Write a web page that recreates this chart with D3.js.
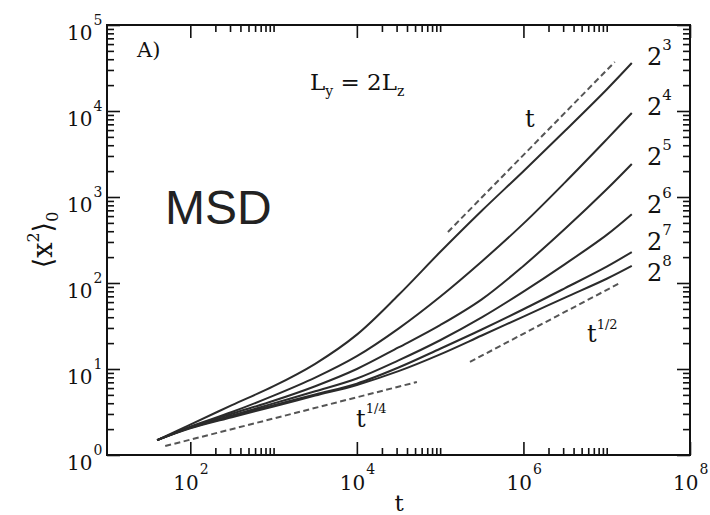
<!DOCTYPE html>
<html><head><meta charset="utf-8">
<script src="https://cdn.jsdelivr.net/npm/d3@7"></script>
<style>body{margin:0;background:#fff} svg{display:block}</style>
</head><body><svg id="c" width="710" height="515"></svg>
<script>
// ---- data ----
const tVals   = [40, 100, 316, 1e3, 3.16e3, 1e4, 3.16e4, 1e5, 3.16e5, 1e6, 3.16e6, 1e7, 2e7];
const msdL8   = [1.49, 2.26, 3.80, 6.31, 11.5, 25.1, 72.4, 229, 692, 1995, 5890, 17800, 36100];
const msdL16  = [1.49, 2.14, 3.16, 4.90, 7.94, 14.1, 29.5, 69.2, 178, 490, 1480, 4680, 9480];
const msdL32  = [1.49, 2.11, 3.02, 4.27, 6.31, 10.0, 17.8, 32.4, 64.6, 158, 427, 1230, 2420];
const msdL64  = [1.49, 2.09, 2.88, 3.98, 5.50, 7.76, 12.6, 21.6, 39.8, 79.4, 166, 363, 631];
const msdL128 = [1.49, 2.07, 2.82, 3.80, 5.07, 6.76, 10.4, 17.2, 28.8, 49.5, 87.1, 155, 229];
const msdL256 = [1.49, 2.04, 2.75, 3.67, 4.90, 6.53, 9.44, 14.8, 24.5, 40.7, 67.6, 112, 158];
const seriesExps = ["3", "4", "5", "6", "7", "8"];
// guide lines (dashed): [t, msd] end points
const guideT1   = [[1.24e5, 392], [1.25e7, 37200]];
const guideT14  = [[50, 1.27], [5.26e4, 7.06]];
const guideT12  = [[2.28e5, 12.1], [1.44e7, 100]];
// ticks
const xMajorTicks = [1e2, 1e4, 1e6, 1e8];
const xTickExps   = ["2", "4", "6", "8"];
const xMinorTicks = [2,3,4,5,6,7,8,9,10].flatMap(m => [1e2, 1e4, 1e6].map(d => m * d));
const yMajorTicks = [1, 10, 100, 1e3, 1e4, 1e5];
const yTickExps   = ["0", "1", "2", "3", "4", "5"];
const yMinorTicks = [2,3,4,5,6,7,8,9].flatMap(m => [1, 10, 100, 1e3, 1e4].map(d => m * d));

// ---- drawing ----
const svg = d3.select("#c");
const L = 107, R = 690, T = 25, B = 455;
const x = d3.scaleLog().domain([10, 1e8]).range([L, R]);
const y = d3.scaleLog().domain([1, 1e5]).range([B, T]);
const serif = "'DejaVu Serif','Liberation Serif',serif";
const ink = "#111";

svg.append("rect").attr("width", 710).attr("height", 515).attr("fill", "#fff");

function styleAxis(g) {
  g.select(".domain").remove();
  g.selectAll(".tick line").attr("stroke", "#111").attr("stroke-width", 1.6);
}
function ticks(axisFn, trans, vals, size) {
  svg.append("g").attr("transform", trans)
    .call(axisFn.tickValues(vals).tickFormat("").tickSize(size).tickSizeOuter(0)).call(styleAxis);
}
ticks(d3.axisBottom(x), `translate(0,${B})`, xMajorTicks, -13);
ticks(d3.axisBottom(x), `translate(0,${B})`, xMinorTicks, -7);
ticks(d3.axisTop(x), `translate(0,${T})`, xMajorTicks, -13);
ticks(d3.axisTop(x), `translate(0,${T})`, xMinorTicks, -7);
ticks(d3.axisLeft(y), `translate(${L},0)`, yMajorTicks, -13);
ticks(d3.axisLeft(y), `translate(${L},0)`, yMinorTicks, -7);
ticks(d3.axisRight(y), `translate(${R},0)`, yMajorTicks, -13);
ticks(d3.axisRight(y), `translate(${R},0)`, yMinorTicks, -7);

svg.append("rect").attr("x", L).attr("y", T).attr("width", R - L).attr("height", B - T)
  .attr("fill", "none").attr("stroke", "#111").attr("stroke-width", 2);

// tick labels
xMajorTicks.forEach((v, i) => {
  const t = svg.append("text").attr("x", x(v) - 17).attr("y", 490)
    .attr("font-family", serif).attr("fill", ink);
  t.append("tspan").attr("font-size", 20).text("10");
  t.append("tspan").attr("font-size", 14).attr("dx", 1).attr("dy", -16).text(xTickExps[i]);
});
yMajorTicks.forEach((v, i) => {
  const t = svg.append("text").attr("x", 67).attr("y", y(v) + 15)
    .attr("font-family", serif).attr("fill", ink);
  t.append("tspan").attr("font-size", 20).text("10");
  t.append("tspan").attr("font-size", 14).attr("dx", 1).attr("dy", -15).text(yTickExps[i]);
});

// axis titles
svg.append("text").attr("x", 399).attr("y", 511).attr("text-anchor", "middle")
  .attr("font-family", serif).attr("font-size", 23).attr("fill", ink).text("t");
const yt = svg.append("text").attr("transform", "translate(52,240) rotate(-90)")
  .attr("text-anchor", "middle").attr("font-family", serif).attr("fill", ink).attr("font-size", 27);
yt.append("tspan").text("\u27E8x");
yt.append("tspan").attr("font-size", 16).attr("dy", -13).text("2");
yt.append("tspan").attr("dy", 13).text("\u27E9");
yt.append("tspan").attr("font-size", 16).attr("dy", 6).text("0");

// curves
const series = [msdL8, msdL16, msdL32, msdL64, msdL128, msdL256];
const line = d3.line().x(d => x(d[0])).y(d => y(d[1])).curve(d3.curveCatmullRom.alpha(0.5));
series.forEach(s => {
  svg.append("path").datum(tVals.map((t, i) => [t, s[i]]))
    .attr("d", line).attr("fill", "none").attr("stroke", "#2b2b2b").attr("stroke-width", 2);
});
[guideT1, guideT14, guideT12].forEach(g => {
  svg.append("path").datum(g).attr("d", d3.line().x(d => x(d[0])).y(d => y(d[1])))
    .attr("fill", "none").attr("stroke", "#555").attr("stroke-width", 2).attr("stroke-dasharray", "6,3.5");
});

// series labels 2^n
const labelY = [65, 115, 165, 213, 250, 281];
seriesExps.forEach((e, i) => {
  const t = svg.append("text").attr("x", 647).attr("y", labelY[i])
    .attr("font-family", serif).attr("fill", ink);
  t.append("tspan").attr("font-size", 24).text("2");
  t.append("tspan").attr("font-size", 15).attr("dx", 0).attr("dy", -15).text(e);
});

// guide labels
svg.append("text").attr("x", 525).attr("y", 127).attr("font-family", serif)
  .attr("font-size", 24).attr("fill", ink).text("t");
const g14 = svg.append("text").attr("x", 356).attr("y", 427).attr("font-family", serif).attr("fill", ink);
g14.append("tspan").attr("font-size", 24).text("t");
g14.append("tspan").attr("font-size", 13).attr("dy", -14).text("1/4");
const g12 = svg.append("text").attr("x", 587).attr("y", 342).attr("font-family", serif).attr("fill", ink);
g12.append("tspan").attr("font-size", 24).text("t");
g12.append("tspan").attr("font-size", 13).attr("dy", -13).text("1/2");

// panel annotations
svg.append("text").attr("x", 137).attr("y", 57).attr("font-family", serif)
  .attr("font-size", 21).attr("fill", ink).text("A)");
const ly = svg.append("text").attr("x", 310).attr("y", 90).attr("font-family", serif).attr("fill", ink);
ly.append("tspan").attr("font-size", 23).text("L");
ly.append("tspan").attr("font-size", 14).attr("dy", 6).text("y");
ly.append("tspan").attr("font-size", 23).attr("dy", -6).text(" = 2L");
ly.append("tspan").attr("font-size", 14).attr("dy", 6).text("z");

svg.append("text").attr("x", 165).attr("y", 224).attr("font-family", "'Liberation Sans',Arial,sans-serif")
  .attr("font-size", 48).attr("fill", "#222").text("MSD");
</script></body></html>
